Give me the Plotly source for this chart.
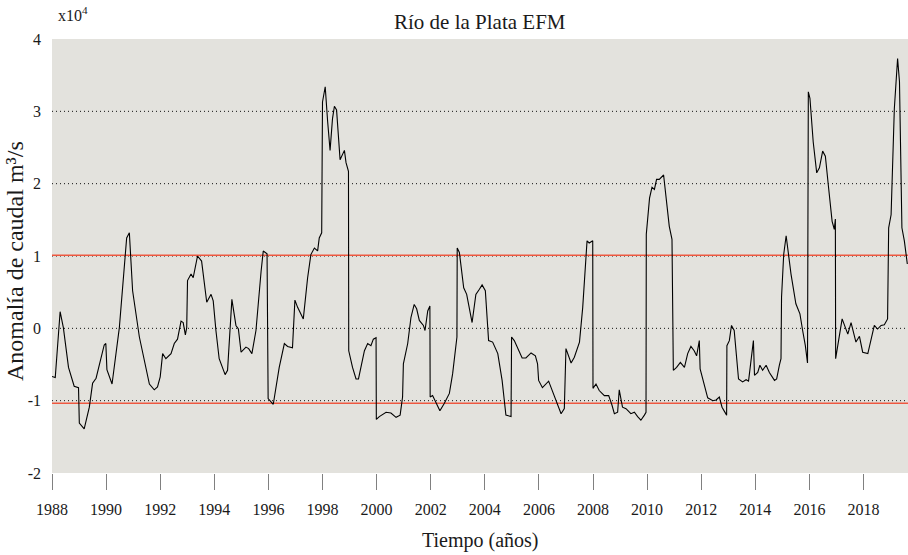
import plotly.graph_objects as go

# Decimal years and streamflow anomaly (x10^4 m3/s)
YEARS = [
    1988.00, 1988.12, 1988.30, 1988.42, 1988.61, 1988.82, 1988.98, 1989.01, 1989.19, 1989.38,
    1989.50, 1989.63, 1989.93, 1989.99, 1990.03, 1990.22, 1990.49, 1990.76, 1990.86, 1990.98,
    1991.23, 1991.60, 1991.78, 1991.90, 1992.00, 1992.09, 1992.21, 1992.40, 1992.52, 1992.64,
    1992.77, 1992.85, 1992.93, 1992.98, 1993.01, 1993.14, 1993.22, 1993.38, 1993.53, 1993.63,
    1993.72, 1993.88, 1993.96, 1994.06, 1994.18, 1994.40, 1994.49, 1994.65, 1994.80, 1994.89,
    1994.99, 1995.17, 1995.27, 1995.39, 1995.54, 1995.73, 1995.81, 1995.95, 1995.99, 1996.18,
    1996.40, 1996.59, 1996.71, 1996.89, 1996.98, 1997.08, 1997.21, 1997.29, 1997.45, 1997.57,
    1997.70, 1997.82, 1997.88, 1997.97, 1998.00, 1998.10, 1998.19, 1998.28, 1998.37, 1998.44,
    1998.52, 1998.65, 1998.81, 1998.87, 1998.96, 1998.97, 1999.11, 1999.24, 1999.33, 1999.55,
    1999.67, 1999.79, 1999.88, 1999.98, 1999.99, 2000.10, 2000.35, 2000.53, 2000.72, 2000.87,
    2000.96, 2000.99, 2001.15, 2001.27, 2001.39, 2001.48, 2001.58, 2001.73, 2001.79, 2001.89,
    2001.97, 2001.98, 2002.07, 2002.20, 2002.34, 2002.50, 2002.69, 2002.81, 2002.94, 2002.97,
    2002.98, 2003.06, 2003.22, 2003.33, 2003.53, 2003.67, 2003.80, 2003.90, 2004.02, 2004.14,
    2004.29, 2004.48, 2004.64, 2004.78, 2004.97, 2004.99, 2005.09, 2005.21, 2005.38, 2005.52,
    2005.71, 2005.87, 2005.95, 2005.99, 2006.13, 2006.36, 2006.51, 2006.66, 2006.82, 2006.94,
    2007.00, 2007.19, 2007.31, 2007.50, 2007.62, 2007.78, 2007.86, 2007.99, 2008.00, 2008.11,
    2008.23, 2008.42, 2008.58, 2008.70, 2008.79, 2008.91, 2008.97, 2009.09, 2009.22, 2009.40,
    2009.53, 2009.65, 2009.77, 2009.90, 2009.96, 2009.97, 2010.09, 2010.18, 2010.27, 2010.35,
    2010.45, 2010.61, 2010.72, 2010.82, 2010.92, 2010.97, 2011.09, 2011.23, 2011.38, 2011.50,
    2011.62, 2011.74, 2011.83, 2011.93, 2011.96, 2012.08, 2012.24, 2012.43, 2012.55, 2012.67,
    2012.77, 2012.94, 2012.95, 2013.04, 2013.12, 2013.22, 2013.38, 2013.53, 2013.66, 2013.75,
    2013.84, 2013.93, 2013.97, 2014.09, 2014.17, 2014.27, 2014.40, 2014.52, 2014.71, 2014.79,
    2014.89, 2014.95, 2014.97, 2015.05, 2015.14, 2015.23, 2015.32, 2015.50, 2015.65, 2015.75,
    2015.85, 2015.93, 2015.96, 2016.02, 2016.14, 2016.27, 2016.37, 2016.49, 2016.59, 2016.71,
    2016.84, 2016.92, 2016.96, 2016.97, 2017.11, 2017.21, 2017.33, 2017.42, 2017.54, 2017.63,
    2017.72, 2017.85, 2017.97, 2018.16, 2018.28, 2018.40, 2018.52, 2018.65, 2018.77, 2018.89,
    2018.93, 2019.02, 2019.14, 2019.26, 2019.33, 2019.42, 2019.51, 2019.62,
]

ANOMALY = [
    -0.665, -0.68, 0.23, 0.01, -0.54, -0.80, -0.82, -1.31, -1.39, -1.09,
    -0.76, -0.69, -0.23, -0.21, -0.57, -0.77, 0.01, 1.25, 1.32, 0.52,
    -0.12, -0.77, -0.85, -0.81, -0.67, -0.35, -0.42, -0.35, -0.21, -0.15,
    0.10, 0.08, -0.09, 0.01, 0.66, 0.75, 0.70, 1.00, 0.93, 0.66,
    0.36, 0.47, 0.38, -0.03, -0.42, -0.64, -0.58, 0.40, 0.04, -0.01,
    -0.33, -0.26, -0.28, -0.35, -0.03, 0.79, 1.07, 1.03, -0.97, -1.05,
    -0.54, -0.21, -0.25, -0.27, 0.39, 0.29, 0.20, 0.13, 0.70, 1.02,
    1.11, 1.07, 1.25, 1.32, 3.13, 3.34, 2.86, 2.46, 2.90, 3.07,
    3.02, 2.33, 2.46, 2.29, 2.17, -0.31, -0.54, -0.70, -0.70, -0.31,
    -0.21, -0.24, -0.15, -0.13, -1.26, -1.22, -1.16, -1.17, -1.23, -1.20,
    -0.95, -0.49, -0.21, 0.15, 0.33, 0.27, 0.11, 0.04, -0.03, 0.24,
    0.31, -0.95, -0.93, -1.04, -1.14, -1.04, -0.90, -0.63, -0.21, -0.12,
    1.11, 1.05, 0.56, 0.47, 0.08, 0.47, 0.54, 0.60, 0.52, -0.17,
    -0.19, -0.35, -0.72, -1.20, -1.22, -0.12, -0.17, -0.28, -0.41, -0.41,
    -0.34, -0.38, -0.49, -0.72, -0.82, -0.73, -0.88, -1.04, -1.18, -1.11,
    -0.28, -0.48, -0.40, -0.19, 0.29, 1.21, 1.18, 1.21, -0.83, -0.77,
    -0.86, -0.93, -0.93, -1.06, -1.18, -1.16, -0.85, -1.09, -1.11, -1.18,
    -1.16, -1.22, -1.27, -1.20, -1.16, 1.30, 1.80, 1.95, 1.92, 2.06,
    2.06, 2.12, 1.76, 1.41, 1.23, -0.58, -0.54, -0.47, -0.54, -0.35,
    -0.25, -0.31, -0.38, -0.17, -0.56, -0.74, -0.96, -1.00, -0.99, -0.95,
    -1.09, -1.20, -0.24, -0.17, 0.04, -0.03, -0.70, -0.74, -0.71, -0.73,
    -0.44, -0.17, -0.65, -0.61, -0.51, -0.58, -0.51, -0.61, -0.72, -0.70,
    -0.51, -0.42, 0.43, 1.02, 1.28, 1.02, 0.75, 0.34, 0.20, -0.03,
    -0.24, -0.48, 3.27, 3.18, 2.58, 2.15, 2.22, 2.45, 2.38, 1.94,
    1.48, 1.37, 1.51, -0.42, -0.08, 0.13, 0.01, -0.08, 0.08, -0.06,
    -0.19, -0.11, -0.33, -0.35, -0.15, 0.04, -0.01, 0.04, 0.05, 0.13,
    1.39, 1.57, 3.04, 3.73, 3.41, 1.39, 1.21, 0.89,
]

X_TICKS = list(range(1988, 2019, 2))
Y_TICKS = [-2, -1, 0, 1, 2, 3, 4]
GRID_LEVELS = [-1, 0, 1, 2, 3]
THRESHOLDS = [1.01, -1.035]
X_RANGE = [1988.0, 2019.645]
Y_RANGE = [-2, 4]

FONT = "Liberation Serif, Times New Roman, serif"
TXT = "#1a1a1a"

fig = go.Figure()

shapes = []
for g in GRID_LEVELS:
    shapes.append(dict(type="line", xref="paper", yref="y", x0=0, x1=1, y0=g, y1=g,
                       line=dict(color="#111111", width=1, dash="1px,3px"), layer="below"))
for t in THRESHOLDS:
    shapes.append(dict(type="line", xref="paper", yref="y", x0=0, x1=1, y0=t, y1=t,
                       line=dict(color="#EE5840", width=1.5), layer="below"))

fig.add_trace(go.Scatter(x=YEARS, y=ANOMALY, mode="lines",
                         line=dict(color="#000000", width=1.1), showlegend=False,
                         hoverinfo="skip"))

fig.update_layout(
    width=908, height=555,
    margin=dict(l=52, r=0, t=39, b=82),
    paper_bgcolor="white",
    plot_bgcolor="#E3E2DD",
    font=dict(family=FONT, size=16, color=TXT),
    shapes=shapes,
    xaxis=dict(range=X_RANGE, tickvals=X_TICKS, ticktext=[str(v) for v in X_TICKS],
               showgrid=False, zeroline=False, showline=False,
               ticks="outside", ticklen=16, tickwidth=1, tickcolor="#808080",
               tickfont=dict(family=FONT, size=16, color=TXT), ticklabelstandoff=6),
    yaxis=dict(range=Y_RANGE, tickvals=Y_TICKS, ticktext=[str(v) for v in Y_TICKS],
               showgrid=False, zeroline=False, showline=False, ticks="",
               tickfont=dict(family=FONT, size=16, color=TXT), ticklabelstandoff=10),
    annotations=[
        dict(text="Río de la Plata EFM", xref="paper", yref="paper", x=0.5, y=1,
             xanchor="center", yanchor="middle", yshift=17, showarrow=False,
             font=dict(family=FONT, size=21, color=TXT)),
        dict(text="x10<sup>4</sup>", xref="paper", yref="paper", x=0, y=1,
             xanchor="left", yanchor="middle", xshift=4, yshift=25, showarrow=False,
             font=dict(family=FONT, size=16, color=TXT)),
        dict(text="Tiempo (años)", xref="paper", yref="paper", x=0.5, y=0,
             xanchor="center", yanchor="middle", yshift=-67, showarrow=False,
             font=dict(family=FONT, size=20, color=TXT)),
        dict(text="Anomalía de caudal m³/s", xref="paper", yref="paper", x=0, y=0.5,
             xanchor="center", yanchor="middle", xshift=-37, yshift=-5, textangle=-90,
             showarrow=False, font=dict(family=FONT, size=24, color=TXT)),
    ],
)

fig.write_html("out.html", config={"displayModeBar": False},
               post_script="document.body.style.margin='0px';document.body.style.overflow='hidden';")
